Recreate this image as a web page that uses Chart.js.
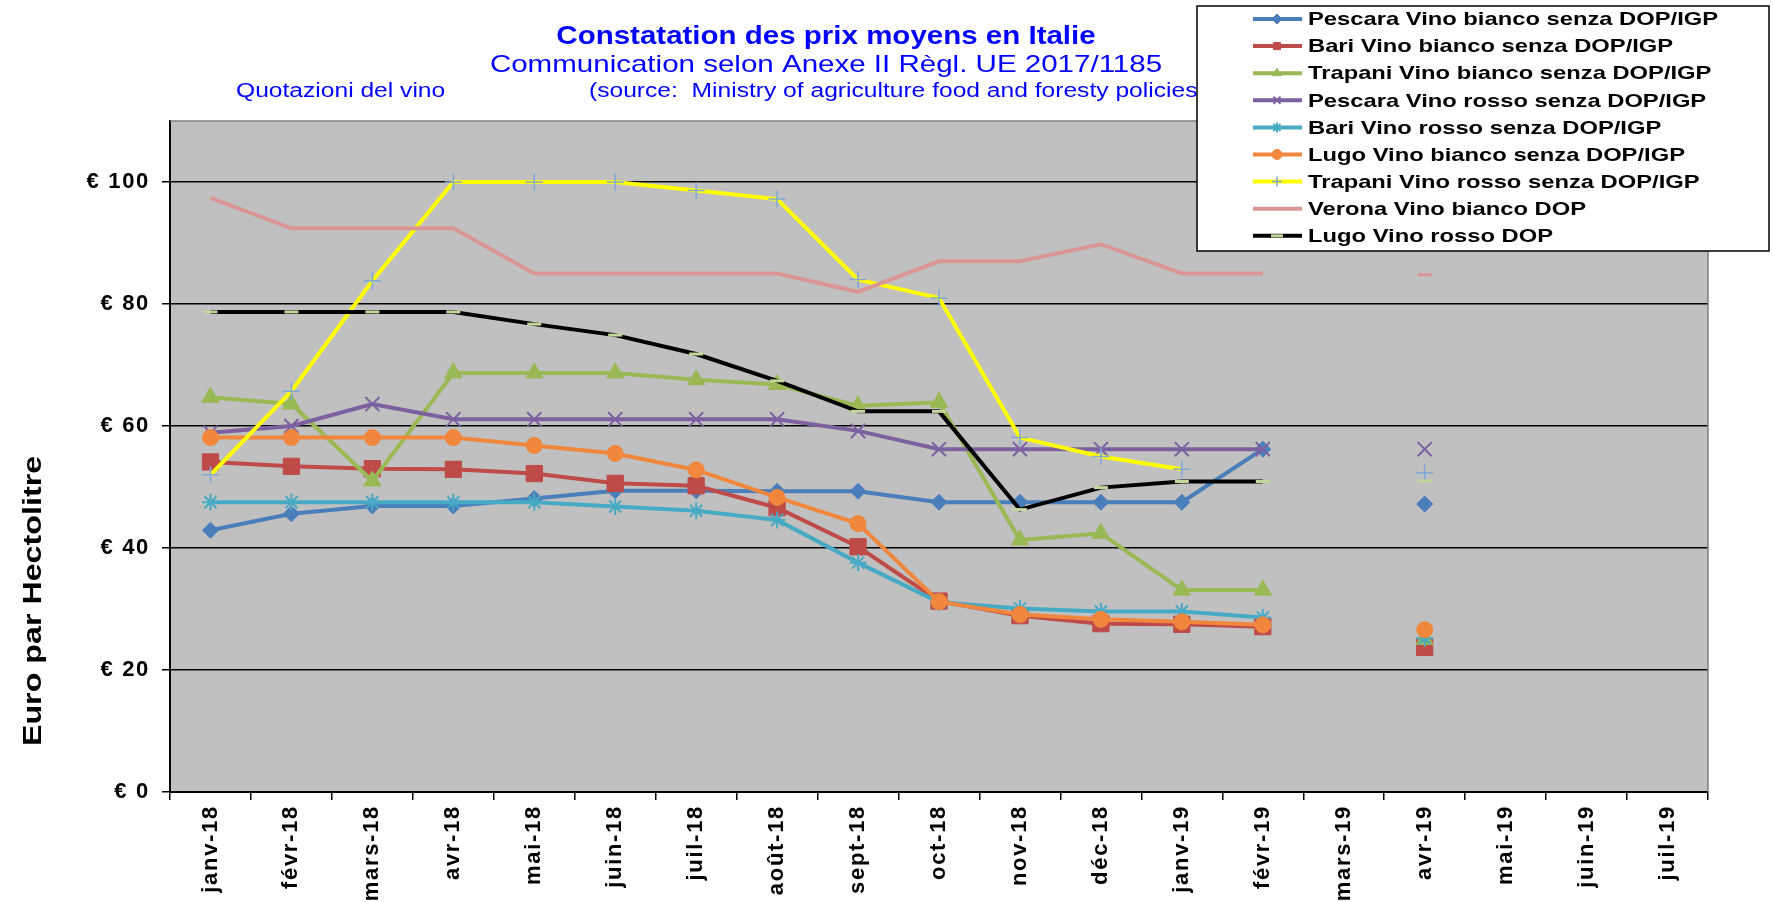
<!DOCTYPE html>
<html lang="fr">
<head>
    <meta charset="UTF-8">
    <title>Constatation des prix moyens en Italie</title>
    <script src="https://cdn.jsdelivr.net/npm/chart.js@4.4.0/dist/chart.umd.min.js"></script>
    <style>
        body {
            margin: 0;
            padding: 0;
            background: #fff;
        }
        #wrap {
            width: 1773px;
            height: 902px;
        }
    </style>
</head>
<body>
    <div id="wrap"><canvas id="prixChart" width="1773" height="902"></canvas></div>

    <script>
        // months on the x axis
        const months = ['janv-18', 'févr-18', 'mars-18', 'avr-18', 'mai-18', 'juin-18', 'juil-18', 'août-18',
            'sept-18', 'oct-18', 'nov-18', 'déc-18', 'janv-19', 'févr-19', 'mars-19', 'avr-19', 'mai-19', 'juin-19', 'juil-19'];
        const yTicks = [0, 20, 40, 60, 80, 100];

        // prices, euro per hectolitre
        const pescaraBianco = [42.9, 45.6, 46.9, 46.9, 48.1, 49.4, 49.4, 49.3, 49.3, 47.5, 47.5, 47.5, 47.5, 56.2, null, 47.2, null, null, null];
        const bariBianco = [54.1, 53.4, 53.0, 52.9, 52.2, 50.6, 50.2, 46.6, 40.2, 31.3, 28.9, 27.6, 27.5, 27.1, null, 23.7, null, null, null];
        const trapaniBianco = [64.7, 63.6, 51.0, 68.7, 68.7, 68.7, 67.6, 66.8, 63.3, 63.9, 41.3, 42.4, 33.1, 33.1, null, 25.0, null, null, null];
        const pescaraRosso = [58.9, 60.0, 63.6, 61.1, 61.1, 61.1, 61.1, 61.1, 59.2, 56.2, 56.2, 56.2, 56.2, 56.2, null, 56.2, null, null, null];
        const bariRosso = [47.5, 47.5, 47.5, 47.5, 47.5, 46.8, 46.1, 44.6, 37.6, 31.1, 30.1, 29.6, 29.6, 28.6, null, 25.2, null, null, null];
        const lugoBianco = [58.1, 58.1, 58.1, 58.1, 56.8, 55.5, 52.8, 48.3, 44.0, 31.2, 29.1, 28.3, 27.9, 27.4, null, 26.6, null, null, null];
        const trapaniRosso = [52.0, 65.7, 83.8, 100, 100, 100, 98.6, 97.2, 84.0, 81.0, 58.1, 55.0, 52.9, null, null, 52.3, null, null, null];
        const veronaBianco = [97.4, 92.4, 92.4, 92.4, 85.0, 85.0, 85.0, 85.0, 82.0, 87.0, 87.0, 89.8, 85.0, 85.0, null, 84.8, null, null, null];
        const lugoRosso = [78.7, 78.7, 78.7, 78.7, 76.7, 74.9, 71.8, 67.4, 62.4, 62.4, 46.3, 49.9, 50.9, 50.9, null, 51.0, null, null, null];

        const FONT = '"Liberation Sans", Arial, sans-serif';

        // only show a marker on the pink line when the point stands alone
        function lonePoint(ctx) {
            const d = ctx.dataset.data;
            const i = ctx.dataIndex;
            return (d[i - 1] == null && d[i + 1] == null) ? 7 : 0;
        }

        function serie(label, data, color, style, radius, opts) {
            return Object.assign({
                label: label,
                data: data,
                borderColor: color,
                backgroundColor: color,
                borderWidth: 4,
                pointStyle: style,
                pointRadius: radius,
                pointHoverRadius: radius,
                pointBackgroundColor: color,
                pointBorderColor: color,
                pointBorderWidth: 1,
                tension: 0,
                spanGaps: false
            }, opts || {});
        }

        const datasets = [
            serie('Pescara Vino bianco senza DOP/IGP', pescaraBianco, '#4A7EBB', 'rectRot', 8),
            serie('Bari Vino bianco senza DOP/IGP', bariBianco, '#BE4B48', 'rect', 11.5),
            serie('Trapani Vino bianco senza DOP/IGP', trapaniBianco, '#98B954', 'triangle', 10),
            serie('Pescara Vino rosso senza DOP/IGP', pescaraRosso, '#7D60A0', 'crossRot', 10, { pointBorderWidth: 2 }),
            serie('Bari Vino rosso senza DOP/IGP', bariRosso, '#46AAC5', 'star', 8.5, { pointBorderWidth: 2 }),
            serie('Lugo Vino bianco senza DOP/IGP', lugoBianco, '#F0873C', 'circle', 8),
            serie('Trapani Vino rosso senza DOP/IGP', trapaniRosso, '#FFFF00', 'cross', 8.5,
                { pointBorderColor: '#7FA6DA', pointBackgroundColor: '#7FA6DA', pointBorderWidth: 1.5 }),
            serie('Verona Vino bianco DOP', veronaBianco, '#D99694', 'line', lonePoint, { pointBorderWidth: 3 }),
            serie('Lugo Vino rosso DOP', lugoRosso, '#000000', 'line', 7,
                { pointBorderColor: '#C3D69B', pointBackgroundColor: '#C3D69B', pointBorderWidth: 3 })
        ];
        // later series on top, like the original
        datasets.forEach((ds, i) => { ds.order = datasets.length - i; });

        // the original text is drawn a bit wider than the font, stretch it along its run
        function wideText(ctx, text, x, y, sx, align, angle) {
            ctx.save();
            ctx.translate(x, y);
            if (angle) ctx.rotate(angle);
            ctx.scale(sx, 1);
            ctx.textAlign = align;
            ctx.fillText(text, 0, 0);
            ctx.restore();
        }

        // grey plot area, borders, titles and the boxed legend
        const decor = {
            id: 'decor',
            beforeDraw(chart) {
                const a = chart.chartArea;
                const ctx = chart.ctx;
                ctx.save();
                ctx.fillStyle = '#C0C0C0';
                ctx.fillRect(a.left, a.top, a.right - a.left, a.bottom - a.top);
                ctx.restore();
                ctx.letterSpacing = '1.7px';
            },
            beforeDatasetsDraw(chart) {
                const a = chart.chartArea;
                const ctx = chart.ctx;
                ctx.save();
                ctx.strokeStyle = '#808080';
                ctx.lineWidth = 1.5;
                ctx.beginPath();
                ctx.moveTo(a.left, a.top);
                ctx.lineTo(a.right, a.top);
                ctx.lineTo(a.right, a.bottom);
                ctx.stroke();
                ctx.restore();
            },
            afterDraw(chart) {
                const ctx = chart.ctx;
                ctx.save();
                ctx.letterSpacing = '0px';
                ctx.fillStyle = '#0000FF';
                ctx.textBaseline = 'middle';
                ctx.font = 'bold 25px ' + FONT;
                wideText(ctx, 'Constatation des prix moyens en Italie', 826, 37, 1.18, 'center');
                ctx.font = '24px ' + FONT;
                wideText(ctx, 'Communication selon Anexe II Règl. UE 2017/1185', 826, 65, 1.23, 'center');
                ctx.font = '20px ' + FONT;
                wideText(ctx, 'Quotazioni del vino', 236, 91, 1.23, 'left');
                wideText(ctx, '(source:  Ministry of agriculture food and foresty policies', 589, 91, 1.23, 'left');

                // y axis title
                ctx.fillStyle = '#000';
                ctx.font = 'bold 26px ' + FONT;
                wideText(ctx, 'Euro par Hectolitre', 34, 601, 1.24, 'center', -Math.PI / 2);

                // legend box
                const bx = 1197, by = 6, bw = 572, bh = 245;
                ctx.fillStyle = '#fff';
                ctx.fillRect(bx, by, bw, bh);
                ctx.strokeStyle = '#000';
                ctx.lineWidth = 1.5;
                ctx.strokeRect(bx, by, bw, bh);

                ctx.font = 'bold 19px ' + FONT;
                chart.data.datasets.forEach((ds, i) => {
                    const y = 19 + i * 27.1;
                    ctx.strokeStyle = ds.borderColor;
                    ctx.lineWidth = ds.borderWidth;
                    ctx.beginPath();
                    ctx.moveTo(1253, y);
                    ctx.lineTo(1302, y);
                    ctx.stroke();
                    if (Chart.helpers && Chart.helpers.drawPoint && typeof ds.pointRadius === 'number') {
                        ctx.fillStyle = ds.pointBackgroundColor;
                        ctx.strokeStyle = ds.pointBorderColor;
                        ctx.lineWidth = ds.pointBorderWidth;
                        Chart.helpers.drawPoint(ctx, {
                            pointStyle: ds.pointStyle,
                            radius: ds.pointStyle === 'line' ? 6 : 5,
                            rotation: 0,
                            borderWidth: ds.pointBorderWidth
                        }, 1277, y);
                    }
                    ctx.fillStyle = '#000';
                    wideText(ctx, ds.label, 1308, y + 1, 1.25, 'left');
                });
                ctx.restore();
            }
        };

        new Chart(document.getElementById('prixChart'), {
            type: 'line',
            data: {
                labels: months,
                datasets: datasets
            },
            options: {
                responsive: false,
                animation: false,
                devicePixelRatio: 1,
                layout: {
                    padding: { top: 121, right: 65, left: 0, bottom: 0 }
                },
                plugins: {
                    legend: { display: false },
                    title: { display: false },
                    tooltip: { enabled: false }
                },
                scales: {
                    x: {
                        offset: true,
                        grid: {
                            offset: true,
                            drawOnChartArea: false,
                            drawTicks: true,
                            tickLength: 8,
                            color: '#000',
                            lineWidth: 1.5
                        },
                        border: { color: '#000', width: 2 },
                        ticks: {
                            autoSkip: false,
                            minRotation: 90,
                            maxRotation: 90,
                            padding: 5,
                            color: '#000',
                            font: { family: FONT, size: 22, weight: 'bold' }
                        },
                        afterFit(scale) { scale.height = 110; }
                    },
                    y: {
                        min: 0,
                        max: 110,
                        afterBuildTicks(scale) {
                            scale.ticks = yTicks.map(v => ({ value: v }));
                        },
                        grid: {
                            color: '#000',
                            lineWidth: 1.5,
                            tickLength: 8
                        },
                        border: { color: '#000', width: 2 },
                        ticks: {
                            padding: 12,
                            color: '#000',
                            font: { family: FONT, size: 22, weight: 'bold' },
                            callback: v => '€ ' + v
                        },
                        afterFit(scale) { scale.width = 170; }
                    }
                }
            },
            plugins: [decor]
        });
    </script>
</body>
</html>
